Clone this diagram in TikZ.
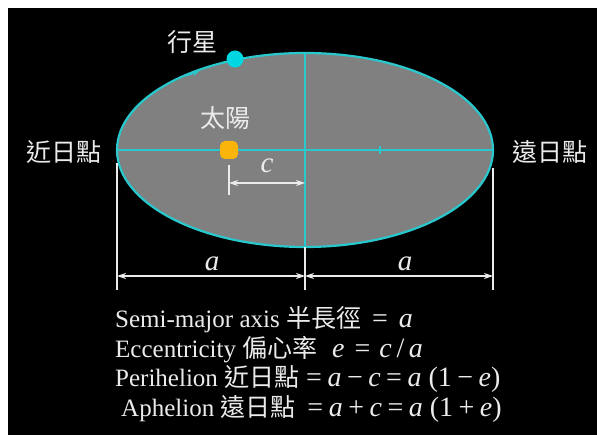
\documentclass[tikz,border=0pt]{standalone}
\usepackage{fontspec}
\setmainfont{Liberation Serif}
\newfontfamily\cjk{Noto Sans CJK TC}
\usetikzlibrary{shapes.geometric, arrows.meta, positioning}
\definecolor{orbitcyan}{RGB}{40, 200, 205}
\definecolor{planetcyan}{RGB}{0, 215, 225}
\definecolor{sunorange}{RGB}{250, 180, 10}
\definecolor{discgray}{RGB}{128, 128, 128}
\definecolor{labelwhite}{RGB}{235, 235, 235}
\newcommand{\var}[1]{\textit{#1}}
\newcommand{\eqpart}[1]{{\fontsize{28}{30}\selectfont #1}}
\newcommand{\gap}{\hspace{5.5pt}}

\begin{document}
\begin{tikzpicture}[x=1pt, y=-1pt,
  orbit/.style={ellipse, draw=orbitcyan, line width=2.2pt, fill=discgray, inner sep=0pt, outer sep=0pt, minimum width=376pt, minimum height=194pt},
  axisline/.style={draw=orbitcyan, line width=1.3pt},
  dimline/.style={draw=labelwhite, line width=1.2pt},
  dimarrow/.style={dimline, {Stealth[length=9pt, width=6pt]}-{Stealth[length=9pt, width=6pt]}},
  cjklabel/.style={text=labelwhite, font=\cjk\fontsize{25}{27}\selectfont},
  varlabel/.style={text=labelwhite, font=\fontsize{29}{31}\selectfont\itshape},
  formula/.style={text=labelwhite, anchor=west, inner sep=0pt, font=\fontsize{25}{27}\selectfont}
]
  \useasboundingbox (0,0) rectangle (597,435);
  \fill[white] (0,0) rectangle (597,435);
  \fill[black] (8,8) rectangle (597,435);

  \node[orbit] (orbit) at (305,150) {};
  \draw[axisline] (orbit.west) -- (orbit.east);
  \draw[axisline] (orbit.north) -- (orbit.south);
  \coordinate (focus) at (380,150);
  \draw[axisline] ([yshift=4pt]focus) -- ([yshift=-4pt]focus);

  \node[rectangle, rounded corners=5pt, fill=sunorange, minimum size=18pt, inner sep=0pt] (sun) at (229,150) {};
  \node[circle, fill=planetcyan, minimum size=17pt, inner sep=0pt] (planet) at (235,59) {};
  \draw[orbitcyan, line width=1pt, -{Stealth[length=7pt, width=6pt]}] (187,76) -- (199,71);

  \node[cjklabel] (planetlabel) at (192,42) {行星};
  \node[cjklabel] (sunlabel) at (225,118) {太陽};
  \node[cjklabel] (perilabel) at (64,152) {近日點};
  \node[cjklabel] (aphlabel) at (550,152) {遠日點};

  \coordinate (cstart) at (229,183);
  \coordinate (cend) at (305,183);
  \draw[dimline] ([yshift=-15pt]sun.center) -- ([yshift=-45pt]sun.center);
  \draw[dimarrow] (cstart) -- (cend);
  \node[varlabel] (clabel) at (267,166) {c};

  \coordinate (aleft) at (117,276);
  \coordinate (amid) at (305,276);
  \coordinate (aright) at (493,276);
  \draw[dimline] ([yshift=-13pt]orbit.west) -- (orbit.west |- 0,290);
  \draw[dimline] (orbit.south) -- (orbit.south |- 0,290);
  \draw[dimline] ([yshift=-18pt]orbit.east) -- (orbit.east |- 0,290);
  \draw[dimarrow] (aleft) -- (amid);
  \draw[dimarrow] (amid) -- (aright);
  \node[varlabel] (aleftlabel) at (212,264) {a};
  \node[varlabel] (arightlabel) at (405,264) {a};

  \node[formula] (semimajor) at (115,320) {Semi-major axis {\cjk 半長徑}\hspace{11pt}\eqpart{=\hspace{11pt}\var{a}}};
  \node[formula] (eccentric) at (115,350) {Eccentricity {\cjk 偏心率}\hspace{15pt}\eqpart{\var{e}\hspace{10pt}=\hspace{9pt}\var{c}\,/\,\var{a}}};
  \node[formula] (perihelion) at (115,379) {Perihelion {\cjk 近日點}\hspace{7pt}\eqpart{=\gap\var{a}\gap−\gap\var{c}\gap=\gap\var{a} (1\gap−\gap\var{e})}};
  \node[formula] (aphelion) at (121,409) {Aphelion {\cjk 遠日點}\hspace{12pt}\eqpart{=\gap\var{a}\gap+\gap\var{c}\gap=\gap\var{a} (1\gap+\gap\var{e})}};
\end{tikzpicture}
\end{document}
